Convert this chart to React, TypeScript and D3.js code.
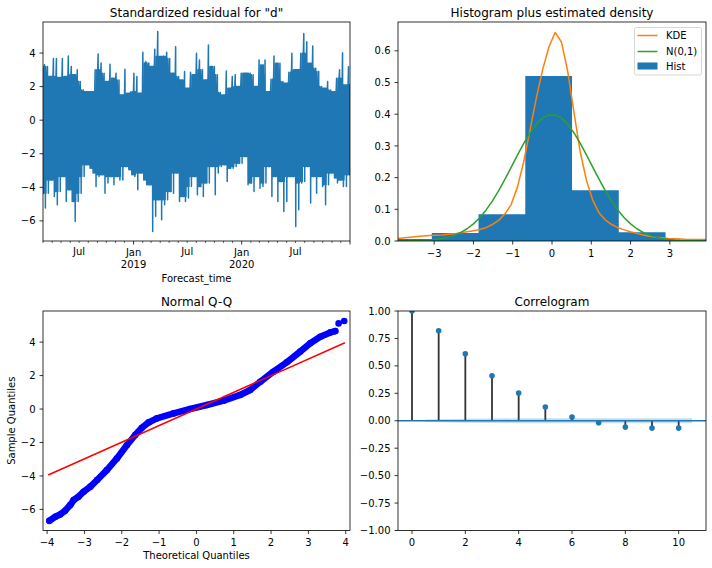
import React from "react";
import * as d3 from "d3";

const FONT = "'DejaVu Sans', 'Liberation Sans', sans-serif";
const C0 = "#1f77b4";
const C1 = "#ff7f0e";
const C2 = "#2ca02c";

// ---------- Panel 1: standardized residual (per-bin max / min) ----------
const residUpper = [
  3.3, 3.2, 2.6, 3.67, 3.68, 2.55, 3.68, 2.6, 3.82, 3.2, 2.7, 3.0, 2.3, 1.8, 1.7, 1.7, 1.7, 3.0, 3.94, 3.4,
  2.8, 2.3, 3.33, 2.5, 2.8, 2.4, 1.5, 3.03, 1.6, 1.7, 2.8, 2.6, 1.6, 4.05, 3.49,
  3.4, 3.2, 4.22, 5.28, 3.79, 3.82, 4.05, 3.68, 2.8, 4.38, 2.6, 2.4, 2.9, 1.9, 2.85, 2.7, 3.99, 3.59, 3.0, 2.4,
  4.48, 3.2, 3.2, 2.7, 1.65, 1.5, 2.93, 1.9, 2.6, 2.7, 2.0, 2.8, 2.8, 2.8,
  2.8, 2.7, 2.0, 3.59, 3.29, 3.59, 1.7, 2.44, 3.82, 3.39, 3.39, 2.3, 2.2, 2.86, 3.99, 3.0, 3.0, 3.99, 5.17, 4.68,
  3.39, 4.42, 3.1, 2.9, 2.0, 1.9, 2.3, 1.8, 1.7, 2.5, 3.0, 4.02, 2.1, 3.19,
];
const residLower = [
  -5.24, -4.35, -3.56, -4.55, -5.04, -4.25, -3.35, -4.84, -4.15, -4.84, -6.04, -4.84, -4.35, -3.35, -2.66, -2.86,
  -3.15, -3.95, -3.35, -3.25, -4.35, -3.75, -3.35, -3.85, -3.35, -3.56, -3.56, -2.76, -2.96, -3.25, -3.35, -4.15,
  -3.15, -3.56, -3.85,
  -3.85, -6.63, -5.73, -4.74, -5.93, -5.04, -4.74, -4.25, -4.35, -3.15, -4.84, -4.55, -4.84, -4.64, -3.95, -3.35,
  -4.45, -3.95, -4.55, -3.75, -3.75, -2.76, -4.45, -3.15, -2.76, -2.66, -3.65, -2.86, -2.86, -2.76, -2.56, -2.56,
  -2.16, -3.85,
  -3.75, -4.25, -3.35, -4.05, -3.95, -3.75, -2.76, -4.55, -3.35, -4.84, -3.65, -5.44, -4.84, -3.35, -3.35, -6.33,
  -5.34, -3.75, -3.65, -2.76, -4.94, -3.35, -4.35, -3.35, -3.95, -5.04, -3.85, -3.15, -3.45, -3.75, -3.56, -3.95,
  -3.95, -3.25,
];
const residStart = new Date(2018, 2, 1);
const residEnd = new Date(2021, 0, 1);
const residYTicks = [-6, -4, -2, 0, 2, 4];

// ---------- Panel 2: histogram + densities ----------
const histEdges = [-6.63, -5.44, -4.25, -3.06, -1.87, -0.68, 0.51, 1.7, 2.89, 4.08, 5.27];
const histDensity = [0.0005, 0.003, 0.006, 0.0253, 0.0845, 0.521, 0.16, 0.0275, 0.004, 0.0003];
const densityGridStart = -3.92;
const densityGridStep = 0.16;
const kdeDensity = [
  0.008, 0.01, 0.012, 0.014, 0.016, 0.017, 0.018, 0.019, 0.021, 0.023, 0.026, 0.029, 0.032, 0.036, 0.042, 0.052,
  0.065, 0.085, 0.115, 0.17, 0.25, 0.35, 0.45, 0.54, 0.612, 0.658, 0.628, 0.535, 0.405, 0.28, 0.19, 0.128, 0.088,
  0.066, 0.052, 0.042, 0.035, 0.029, 0.024, 0.019, 0.015, 0.012, 0.01, 0.008, 0.007, 0.006, 0.005, 0.005, 0.005,
  0.005,
];
const normDensity = [
  0.0002, 0.0003, 0.0006, 0.0011, 0.0018, 0.0031, 0.005, 0.0079, 0.0122, 0.0184, 0.027, 0.0387, 0.054, 0.0734,
  0.0973, 0.1257, 0.1582, 0.1942, 0.2323, 0.2709, 0.3079, 0.341, 0.3683, 0.3876, 0.3977, 0.3977, 0.3876, 0.3683,
  0.341, 0.3079, 0.2709, 0.2323, 0.1942, 0.1582, 0.1257, 0.0973, 0.0734, 0.054, 0.0387, 0.027, 0.0184, 0.0122,
  0.0079, 0.005, 0.0031, 0.0018, 0.0011, 0.0006, 0.0003, 0.0002,
];
const histXTicks = [-3, -2, -1, 0, 1, 2, 3];
const histYTicks = [0, 0.1, 0.2, 0.3, 0.4, 0.5, 0.6];
const legendLabels = ["KDE", "N(0,1)", "Hist"];

// ---------- Panel 3: Normal Q-Q ----------
const qqTheoretical = [
  -3.94, -3.78, -3.65, -3.52, -3.38, -3.29, -3.16, -3.02, -2.84, -2.66, -2.4, -2.13, -1.86, -1.64, -1.46, -1.28,
  -1.06, -0.61, -0.17, 0.28, 0.73, 1.17, 1.44, 1.71, 2.06, 2.42, 2.78, 3.05, 3.32, 3.59, 3.72, 3.81, 3.96,
];
const qqSample = [
  -6.68, -6.44, -6.3, -6.08, -5.74, -5.44, -5.24, -4.94, -4.64, -4.24, -3.65, -2.95, -2.15, -1.55, -1.12, -0.8,
  -0.56, -0.26, 0.0, 0.24, 0.5, 0.84, 1.14, 1.63, 2.23, 2.79, 3.43, 3.93, 4.32, 4.58, 4.66, 5.12, 5.26,
];
const qqDenseCount = 31; // points after this index are isolated outliers
const qqLineX = [-3.97, 3.98];
const qqLineY = [-3.94, 3.96];
const qqXTicks = [-4, -3, -2, -1, 0, 1, 2, 3, 4];
const qqYTicks = [-6, -4, -2, 0, 2, 4];

// ---------- Panel 4: Correlogram ----------
const acfLags = [0, 1, 2, 3, 4, 5, 6, 7, 8, 9, 10];
const acfValues = [1.0, 0.82, 0.61, 0.41, 0.253, 0.125, 0.034, -0.018, -0.058, -0.067, -0.067];
const acfBand = [0.012, 0.018, 0.021, 0.022, 0.0226, 0.023, 0.023, 0.023, 0.023, 0.023];
const acfXTicks = [0, 2, 4, 6, 8, 10];
const acfYTicks = [-1, -0.75, -0.5, -0.25, 0, 0.25, 0.5, 0.75, 1];

// ---------- layout ----------
const COL_L: [number, number] = [43, 350];
const COL_R: [number, number] = [398, 706];
const ROW_T: [number, number] = [22, 241];
const ROW_B: [number, number] = [311, 530.5];

const minus = (s: string) => s.replace("-", "\u2212");

function Frame({ x, y }: { x: [number, number]; y: [number, number] }) {
  return (
    <rect x={x[0]} y={y[0]} width={x[1] - x[0]} height={y[1] - y[0]} fill="none" stroke="#000" strokeWidth={0.8} />
  );
}

function YAxis({ scale, ticks, x0, fmt }: { scale: any; ticks: number[]; x0: number; fmt: (v: number) => string }) {
  return (
    <g>
      {ticks.map((t) => {
        const y = scale(t);
        return (
          <g key={t}>
            <line x1={x0 - 3.5} x2={x0} y1={y} y2={y} stroke="#000" strokeWidth={0.8} />
            <text x={x0 - 7.5} y={y + 3.6} textAnchor="end" fontSize={10} fontFamily={FONT} fill="#000">
              {minus(fmt(t))}
            </text>
          </g>
        );
      })}
    </g>
  );
}

function XAxis({ scale, ticks, y0, fmt }: { scale: any; ticks: number[]; y0: number; fmt: (v: number) => string }) {
  return (
    <g>
      {ticks.map((t) => {
        const x = scale(t);
        return (
          <g key={t}>
            <line x1={x} x2={x} y1={y0} y2={y0 + 3.5} stroke="#000" strokeWidth={0.8} />
            <text x={x} y={y0 + 15.5} textAnchor="middle" fontSize={10} fontFamily={FONT} fill="#000">
              {minus(fmt(t))}
            </text>
          </g>
        );
      })}
    </g>
  );
}

function Title({ x, y, text }: { x: [number, number]; y: number; text: string }) {
  return (
    <text x={(x[0] + x[1]) / 2} y={y - 5.5} textAnchor="middle" fontSize={12} fontFamily={FONT} fill="#000">
      {text}
    </text>
  );
}

export default function App() {
  // ----- Panel 1 -----
  const tX = d3.scaleTime().domain([residStart, residEnd]).range(COL_L);
  const rY = d3.scaleLinear().domain([-7.2, 5.85]).range([ROW_T[1], ROW_T[0]]);
  const nBins = residUpper.length;
  const binMs = (residEnd.getTime() - residStart.getTime()) / nBins;
  const residPts: [Date, number][] = [];
  for (let i = 0; i < nBins; i++) {
    // dense core = envelope shared with neighbouring bins; the bin's own extremes are drawn as thin spikes
    const cu = Math.min(residUpper[Math.max(0, i - 1)], residUpper[i], residUpper[Math.min(nBins - 1, i + 1)]);
    const cl = Math.max(residLower[Math.max(0, i - 1)], residLower[i], residLower[Math.min(nBins - 1, i + 1)]);
    const seq: [number, number][] = [
      [0.05, cu],
      [0.2, cl],
      [0.35, cu],
      [0.5, residUpper[i]],
      [0.6, cl],
      [0.7, cu],
      [0.8, residLower[i]],
      [0.9, cu],
      [0.98, cl],
    ];
    seq.forEach(([f, v]) => residPts.push([new Date(residStart.getTime() + (i + f) * binMs), v]));
  }
  const residPath = d3
    .line<[Date, number]>()
    .x((d) => tX(d[0]))
    .y((d) => rY(d[1]))(residPts) as string;
  const months = d3.timeMonth.range(residStart, new Date(residEnd.getTime() + 1));

  // ----- Panel 2 -----
  const hX = d3.scaleLinear().domain([-3.92, 3.92]).range(COL_R);
  const hY = d3.scaleLinear().domain([0, 0.691]).range([ROW_T[1], ROW_T[0]]);
  const gridX = kdeDensity.map((_, i) => densityGridStart + i * densityGridStep);
  const densLine = (vals: number[]) =>
    d3
      .line<number>()
      .x((_, i) => hX(gridX[i]))
      .y((d) => hY(d))(vals) as string;
  const histSteps = histEdges.map((e, i) => [e, i < histDensity.length ? histDensity[i] : 0] as [number, number]);
  const histPath = d3
    .area<[number, number]>()
    .curve(d3.curveStepAfter)
    .x((d) => hX(d[0]))
    .y0(hY(0))
    .y1((d) => hY(d[1]))(histSteps) as string;

  // ----- Panel 3 -----
  const qX = d3.scaleLinear().domain([-4.11, 4.115]).range(COL_L);
  const qY = d3.scaleLinear().domain([-7.26, 5.86]).range([ROW_B[1], ROW_B[0]]);
  const qqPath = d3
    .line<number>()
    .x((_, i) => qX(qqTheoretical[i]))
    .y((d) => qY(d))(qqSample.slice(0, qqDenseCount)) as string;

  // ----- Panel 4 -----
  const aX = d3.scaleLinear().domain([-0.525, 11.025]).range(COL_R);
  const aY = d3.scaleLinear().domain([-1, 1]).range([ROW_B[1], ROW_B[0]]);
  const bandX = acfLags.slice(1).map((l, i, arr) => (i === 0 ? l - 0.5 : i === arr.length - 1 ? l + 0.5 : l));
  const bandPath = d3
    .area<number>()
    .x((_, i) => aX(bandX[i]))
    .y0((d) => aY(-d))
    .y1((d) => aY(d))(acfBand) as string;

  const legendX = 634.5;
  const legendY = 27.5;

  return (
    <div style={{ position: "absolute", left: 0, top: 0 }}>
      <svg width={712} height={568} style={{ display: "block", background: "#fff" }}>
        <defs>
          <clipPath id="cp1">
            <rect x={COL_L[0]} y={ROW_T[0]} width={COL_L[1] - COL_L[0]} height={ROW_T[1] - ROW_T[0]} />
          </clipPath>
          <clipPath id="cp2">
            <rect x={COL_R[0]} y={ROW_T[0]} width={COL_R[1] - COL_R[0]} height={ROW_T[1] - ROW_T[0]} />
          </clipPath>
          <clipPath id="cp3">
            <rect x={COL_L[0]} y={ROW_B[0]} width={COL_L[1] - COL_L[0]} height={ROW_B[1] - ROW_B[0]} />
          </clipPath>
          <clipPath id="cp4">
            <rect x={COL_R[0]} y={ROW_B[0]} width={COL_R[1] - COL_R[0]} height={ROW_B[1] - ROW_B[0]} />
          </clipPath>
        </defs>

        {/* ===== Panel 1 ===== */}
        <g clipPath="url(#cp1)">
          <path d={residPath} fill="none" stroke={C0} strokeWidth={1.5} strokeLinejoin="round" />
        </g>
        <Frame x={COL_L} y={ROW_T} />
        <YAxis scale={rY} ticks={residYTicks} x0={COL_L[0]} fmt={(v) => String(v)} />
        {months.map((m) => {
          const x = tX(m);
          const isJan = m.getMonth() === 0;
          const isJul = m.getMonth() === 6;
          return (
            <g key={m.getTime()}>
              <line
                x1={x}
                x2={x}
                y1={ROW_T[1]}
                y2={ROW_T[1] + (isJan ? 3.5 : 2)}
                stroke="#000"
                strokeWidth={isJan ? 0.8 : 0.6}
              />
              {isJul && (
                <text x={x} y={ROW_T[1] + 14} textAnchor="middle" fontSize={10} fontFamily={FONT} fill="#000">
                  {d3.timeFormat("%b")(m)}
                </text>
              )}
              {isJan && m.getTime() < residEnd.getTime() && (
                <text textAnchor="middle" fontSize={10} fontFamily={FONT} fill="#000">
                  <tspan x={x} y={ROW_T[1] + 15}>
                    {d3.timeFormat("%b")(m)}
                  </tspan>
                  <tspan x={x} y={ROW_T[1] + 26.5}>
                    {d3.timeFormat("%Y")(m)}
                  </tspan>
                </text>
              )}
            </g>
          );
        })}
        <text x={(COL_L[0] + COL_L[1]) / 2} y={282} textAnchor="middle" fontSize={10} fontFamily={FONT} fill="#000">
          Forecast_time
        </text>
        <Title x={COL_L} y={ROW_T[0]} text={'Standardized residual for "d"'} />

        {/* ===== Panel 2 ===== */}
        <g clipPath="url(#cp2)">
          <path d={histPath} fill={C0} stroke="none" />
          <path d={densLine(kdeDensity)} fill="none" stroke={C1} strokeWidth={1.5} strokeLinejoin="round" />
          <path d={densLine(normDensity)} fill="none" stroke={C2} strokeWidth={1.5} strokeLinejoin="round" />
        </g>
        <Frame x={COL_R} y={ROW_T} />
        <YAxis scale={hY} ticks={histYTicks} x0={COL_R[0]} fmt={(v) => v.toFixed(1)} />
        <XAxis scale={hX} ticks={histXTicks} y0={ROW_T[1]} fmt={(v) => String(v)} />
        <Title x={COL_R} y={ROW_T[0]} text="Histogram plus estimated density" />
        <g>
          <rect
            x={legendX}
            y={legendY}
            width={67}
            height={47.5}
            rx={2}
            fill="#fff"
            fillOpacity={0.8}
            stroke="#cccccc"
            strokeWidth={0.8}
          />
          <line x1={legendX + 3} x2={legendX + 23} y1={35.5} y2={35.5} stroke={C1} strokeWidth={1.5} />
          <line x1={legendX + 3} x2={legendX + 23} y1={51.5} y2={51.5} stroke={C2} strokeWidth={1.5} />
          <rect x={legendX + 3} y={62.5} width={20} height={7} fill={C0} />
          {legendLabels.map((l, i) => (
            <text key={l} x={legendX + 31.5} y={39.2 + i * 15.6} fontSize={10} fontFamily={FONT} fill="#000">
              {l}
            </text>
          ))}
        </g>

        {/* ===== Panel 3 ===== */}
        <g clipPath="url(#cp3)">
          <path d={qqPath} fill="none" stroke="#0000ff" strokeWidth={6.6} strokeLinejoin="round" strokeLinecap="round" />
          {qqSample.map((v, i) => (
            <circle key={i} cx={qX(qqTheoretical[i])} cy={qY(v)} r={3.3} fill="#0000ff" />
          ))}
          <line
            x1={qX(qqLineX[0])}
            x2={qX(qqLineX[1])}
            y1={qY(qqLineY[0])}
            y2={qY(qqLineY[1])}
            stroke="#ff0000"
            strokeWidth={1.5}
          />
        </g>
        <Frame x={COL_L} y={ROW_B} />
        <YAxis scale={qY} ticks={qqYTicks} x0={COL_L[0]} fmt={(v) => String(v)} />
        <XAxis scale={qX} ticks={qqXTicks} y0={ROW_B[1]} fmt={(v) => String(v)} />
        <Title x={COL_L} y={ROW_B[0]} text="Normal Q-Q" />
        <text x={(COL_L[0] + COL_L[1]) / 2} y={559} textAnchor="middle" fontSize={10} fontFamily={FONT} fill="#000">
          Theoretical Quantiles
        </text>
        <text
          transform={`translate(15, ${(ROW_B[0] + ROW_B[1]) / 2}) rotate(-90)`}
          textAnchor="middle"
          fontSize={10}
          fontFamily={FONT}
          fill="#000"
        >
          Sample Quantiles
        </text>

        {/* ===== Panel 4 ===== */}
        <g clipPath="url(#cp4)">
          {acfLags.map((l, i) => (
            <line key={l} x1={aX(l)} x2={aX(l)} y1={aY(0)} y2={aY(acfValues[i])} stroke="#333333" strokeWidth={1.8} />
          ))}
          <line x1={COL_R[0]} x2={COL_R[1]} y1={aY(0)} y2={aY(0)} stroke={C0} strokeWidth={1.5} />
          {acfLags.map((l, i) => (
            <circle key={l} cx={aX(l)} cy={aY(acfValues[i])} r={2.8} fill={C0} />
          ))}
          <path d={bandPath} fill={C0} fillOpacity={0.25} stroke="none" />
        </g>
        <Frame x={COL_R} y={ROW_B} />
        <YAxis scale={aY} ticks={acfYTicks} x0={COL_R[0]} fmt={(v) => v.toFixed(2)} />
        <XAxis scale={aX} ticks={acfXTicks} y0={ROW_B[1]} fmt={(v) => String(v)} />
        <Title x={COL_R} y={ROW_B[0]} text="Correlogram" />
      </svg>
    </div>
  );
}
